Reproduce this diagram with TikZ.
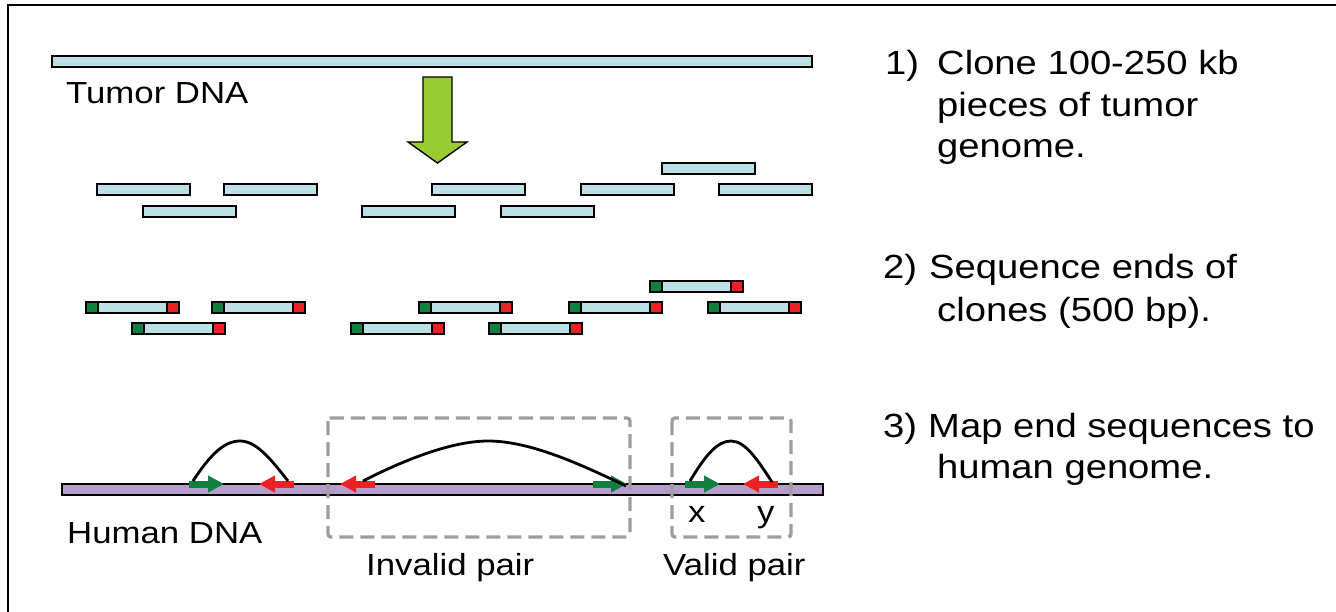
\documentclass[tikz,border=0pt]{standalone}
\usepackage{fontspec}
\setmainfont{Liberation Sans}[FakeStretch=1.14]
\usetikzlibrary{arrows.meta}
\definecolor{dnablue}{RGB}{189,224,228}
\definecolor{humanpurple}{RGB}{183,158,202}
\definecolor{endgreen}{RGB}{16,128,64}
\definecolor{endred}{RGB}{237,32,36}
\definecolor{biggreen}{RGB}{153,204,51}
\definecolor{boxgray}{RGB}{158,158,158}
\tikzset{
  bar/.style={draw=black, fill=dnablue, line width=2pt},
  hbar/.style={draw=black, fill=humanpurple, line width=2pt},
  gend/.style={draw=black, fill=endgreen, line width=2pt},
  rend/.style={draw=black, fill=endred, line width=2pt},
  lbl/.style={inner sep=0pt, anchor=base west, font=\fontsize{30.5}{36}\selectfont},
  rtxt/.style={inner sep=0pt, anchor=base west, font=\fontsize{33.5}{40}\selectfont},
  garrow/.style={endgreen, line width=7pt, -{Triangle[width=16pt,length=16pt]}},
  rarrow/.style={endred, line width=7pt, -{Triangle[width=16pt,length=16pt]}},
  arc/.style={draw=black, line width=2.8pt},
  pairbox/.style={draw=boxgray, line width=3.4pt, dash pattern=on 14pt off 7pt, rounded corners=3pt},
}
\begin{document}
\begin{tikzpicture}[x=1pt,y=-1pt]
\useasboundingbox (0,0) rectangle (1336,612);
% frame
\draw[line width=1.8pt] (8,612) -- (8,5) -- (1336,5);

% tumor DNA
\draw[bar] (52,56) rectangle (812,67);
\node[lbl] (tumor) at (66,104) {Tumor DNA};

% big green arrow
\draw[draw=black, fill=biggreen, line width=1.4pt]
  (423,77) -- (452,77) -- (452,142) -- (467,142) -- (437.5,163) -- (408,142) -- (423,142) -- cycle;

% clones
\foreach \x/\y in {97/184,224/184,432/184,581/184,719/184,143/206,362/206,501/206,662/163}
  \draw[bar] (\x,\y) rectangle ++(93,11);

% sequenced clones
\foreach \x/\y in {85.7/301.7,212.3/301.7,419.3/301.7,569.3/301.7,707.7/301.7,131.7/323,350.7/323,488.7/323,650/280.7}{
  \draw[bar] (\x,\y) rectangle ++(93,11);
  \draw[gend] (\x,\y) rectangle ++(12,11);
  \draw[rend] (\x+81,\y) rectangle ++(12,11);
}

% human DNA
\draw[hbar] (62,483.5) rectangle (823,494.5);
\node[lbl] (human) at (67,543) {Human DNA};

% end arrows
\coordinate (g1s) at (189,484); \coordinate (g1e) at (224,484);
\coordinate (r1s) at (294,484); \coordinate (r1e) at (259,484);
\coordinate (r2s) at (375,484); \coordinate (r2e) at (340,484);
\coordinate (g2s) at (593,484); \coordinate (g2e) at (627,484);
\coordinate (g3s) at (685,484); \coordinate (g3e) at (720,484);
\coordinate (r3s) at (778,484); \coordinate (r3e) at (743,484);
\draw[garrow] (g1s) -- (g1e);
\draw[rarrow] (r1s) -- (r1e);
\draw[rarrow] (r2s) -- (r2e);
\draw[garrow] (g2s) -- (g2e);
\draw[garrow] (g3s) -- (g3e);
\draw[rarrow] (r3s) -- (r3e);

% arcs
\coordinate (a1s) at (193,481); \coordinate (a1e) at (288,481);
\coordinate (a2s) at (363,481); \coordinate (a2e) at (626,486);
\coordinate (a3s) at (690,481); \coordinate (a3e) at (772,482);
\draw[arc] (a1s) .. controls (210,455) and (224,441) .. (240,441) .. controls (256,441) and (270,458) .. (a1e);
\draw[arc] (a2s) .. controls (400,462) and (450,441) .. (488,441) .. controls (530,441) and (580,464) .. (a2e);
\draw[arc] (a3s) .. controls (705,456) and (717,441) .. (731,441) .. controls (745,441) and (757,459) .. (a3e);

% pair boxes
\draw[pairbox] (328,418) rectangle (630,537);
\draw[pairbox] (672,418) rectangle (791,537);
\node[lbl] (invalid) at (366,575) {Invalid pair};
\node[lbl] (valid) at (663,575) {Valid pair};
\node[lbl] (xlbl) at (688,522) {x};
\node[lbl] (ylbl) at (757,522) {y};

% right text
\node[rtxt] (n1) at (885,75) {1)};
\node[rtxt] (t1a) at (937,75) {Clone 100-250 kb};
\node[rtxt] (t1b) at (937,116.5) {pieces of tumor};
\node[rtxt] (t1c) at (937,158) {genome.};
\node[rtxt] (n2) at (883,279) {2)};
\node[rtxt] (t2a) at (929,279) {Sequence ends of};
\node[rtxt] (t2b) at (937,322) {clones (500 bp).};
\node[rtxt] (n3) at (883,437) {3)};
\node[rtxt] (t3a) at (928,437) {Map end sequences to};
\node[rtxt] (t3b) at (937,478) {human genome.};
\end{tikzpicture}
\end{document}
